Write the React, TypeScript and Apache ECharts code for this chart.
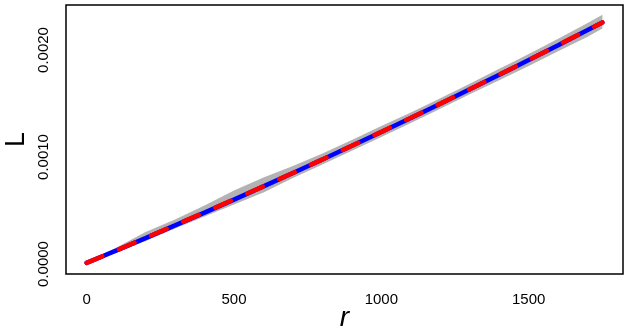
import React, { useEffect, useRef } from "react";
import * as echarts from "echarts";

const rValues = [0, 100, 200, 300, 400, 500, 600, 700, 800, 900, 1000, 1100, 1200, 1300, 1400, 1500, 1600, 1700, 1750];
const theoL = [0.0000100, 0.0001252, 0.000242, 0.0003604, 0.0004804, 0.000602, 0.0007252, 0.00085, 0.0009764, 0.0011044, 0.001234, 0.0013652, 0.001498, 0.0016324, 0.0017684, 0.001906, 0.0020452, 0.002186, 0.002257];
const obsL = [0.0000100, 0.0001262, 0.000244, 0.0003624, 0.0004824, 0.000604, 0.0007262, 0.000851, 0.0009774, 0.0011054, 0.001235, 0.0013662, 0.001499, 0.0016334, 0.0017694, 0.001907, 0.0020462, 0.002187, 0.002258];
const envHi = [0.0000194, 0.000153, 0.000298, 0.000416, 0.000546, 0.000686, 0.000809, 0.000916, 0.001032, 0.00116, 0.00129, 0.001417, 0.001549, 0.001684, 0.001824, 0.001962, 0.002106, 0.002252, 0.00233];
const envLo = [0.0000000, 0.0001065, 0.000214, 0.000332, 0.000443, 0.000555, 0.000669, 0.000803, 0.00093, 0.001058, 0.001187, 0.001318, 0.001451, 0.001586, 0.001717, 0.00185, 0.001989, 0.002125, 0.002201];
const xTicks = [0, 500, 1000, 1500];
const yTicks = [0, 0.001, 0.002];

const FONT = "Liberation Sans, Arial, Helvetica, sans-serif";

export default function App() {
  const ref = useRef<HTMLDivElement>(null);
  useEffect(() => {
    if (!ref.current) return;
    const chart = echarts.init(ref.current, undefined, { renderer: "svg" });
    const isTick = (v: number, ticks: number[]) => ticks.some((t) => Math.abs(t - v) < 1e-9);
    chart.setOption({
      animation: false,
      textStyle: { fontFamily: FONT },
      grid: {
        left: 66,
        right: 7,
        top: 5,
        bottom: 58,
        show: true,
        borderColor: "#000",
        borderWidth: 1.5,
        backgroundColor: "transparent",
        containLabel: false,
        outerBoundsMode: "none",
      },
      xAxis: {
        type: "value",
        min: -70,
        max: 1820,
        splitNumber: 4,
        name: "r",
        nameLocation: "middle",
        nameGap: 28,
        nameMoveOverlap: false,
        nameTextStyle: { fontSize: 28, fontStyle: "italic", color: "#000", fontFamily: FONT, lineHeight: 28 },
        axisLine: { show: false },
        axisTick: { show: false },
        splitLine: { show: false },
        axisLabel: {
          fontSize: 15,
          color: "#000",
          margin: 17,
          fontFamily: FONT,
          formatter: (v: number) => (isTick(v, xTicks) ? String(v) : ""),
        },
      },
      yAxis: {
        type: "value",
        min: -0.0000935,
        max: 0.0024206,
        splitNumber: 3,
        name: "L",
        nameLocation: "middle",
        nameRotate: 90,
        nameGap: 38,
        nameMoveOverlap: false,
        nameTextStyle: { fontSize: 27, color: "#000", fontFamily: FONT },
        axisLine: { show: false },
        axisTick: { show: false },
        splitLine: { show: false },
        axisLabel: {
          fontSize: 15,
          color: "#000",
          rotate: 90,
          margin: 16,
          fontFamily: FONT,
          formatter: (v: number) => (isTick(v, yTicks) ? v.toFixed(4) : ""),
        },
      },
      series: [
        {
          type: "custom",
          silent: true,
          z: 1,
          data: rValues.map((r, i) => [r, envLo[i], envHi[i]]),
          encode: { x: 0, y: [1, 2] },
          renderItem: (params: any, api: any) => {
            if (params.dataIndex !== 0) return { type: "group", children: [] };
            const pts: number[][] = [];
            for (let i = 0; i < rValues.length; i++) pts.push(api.coord([rValues[i], envHi[i]]));
            for (let i = rValues.length - 1; i >= 0; i--) pts.push(api.coord([rValues[i], envLo[i]]));
            return { type: "polygon", shape: { points: pts }, style: { fill: "#b3b3b3", stroke: "none" } };
          },
        },
        {
          type: "line",
          z: 2,
          symbol: "none",
          silent: true,
          data: rValues.map((r, i) => [r, theoL[i]]),
          lineStyle: { color: "#0000ff", width: 4.5, cap: "round" },
        },
        {
          type: "line",
          z: 3,
          symbol: "none",
          silent: true,
          data: rValues.map((r, i) => [r, obsL[i]]),
          lineStyle: { color: "#ff0000", width: 4.5, type: [17, 18], cap: "round" },
        },
      ],
    });
    return () => chart.dispose();
  }, []);
  return <div ref={ref} style={{ position: "fixed", left: 0, top: 0, width: 630, height: 332 }} />;
}
